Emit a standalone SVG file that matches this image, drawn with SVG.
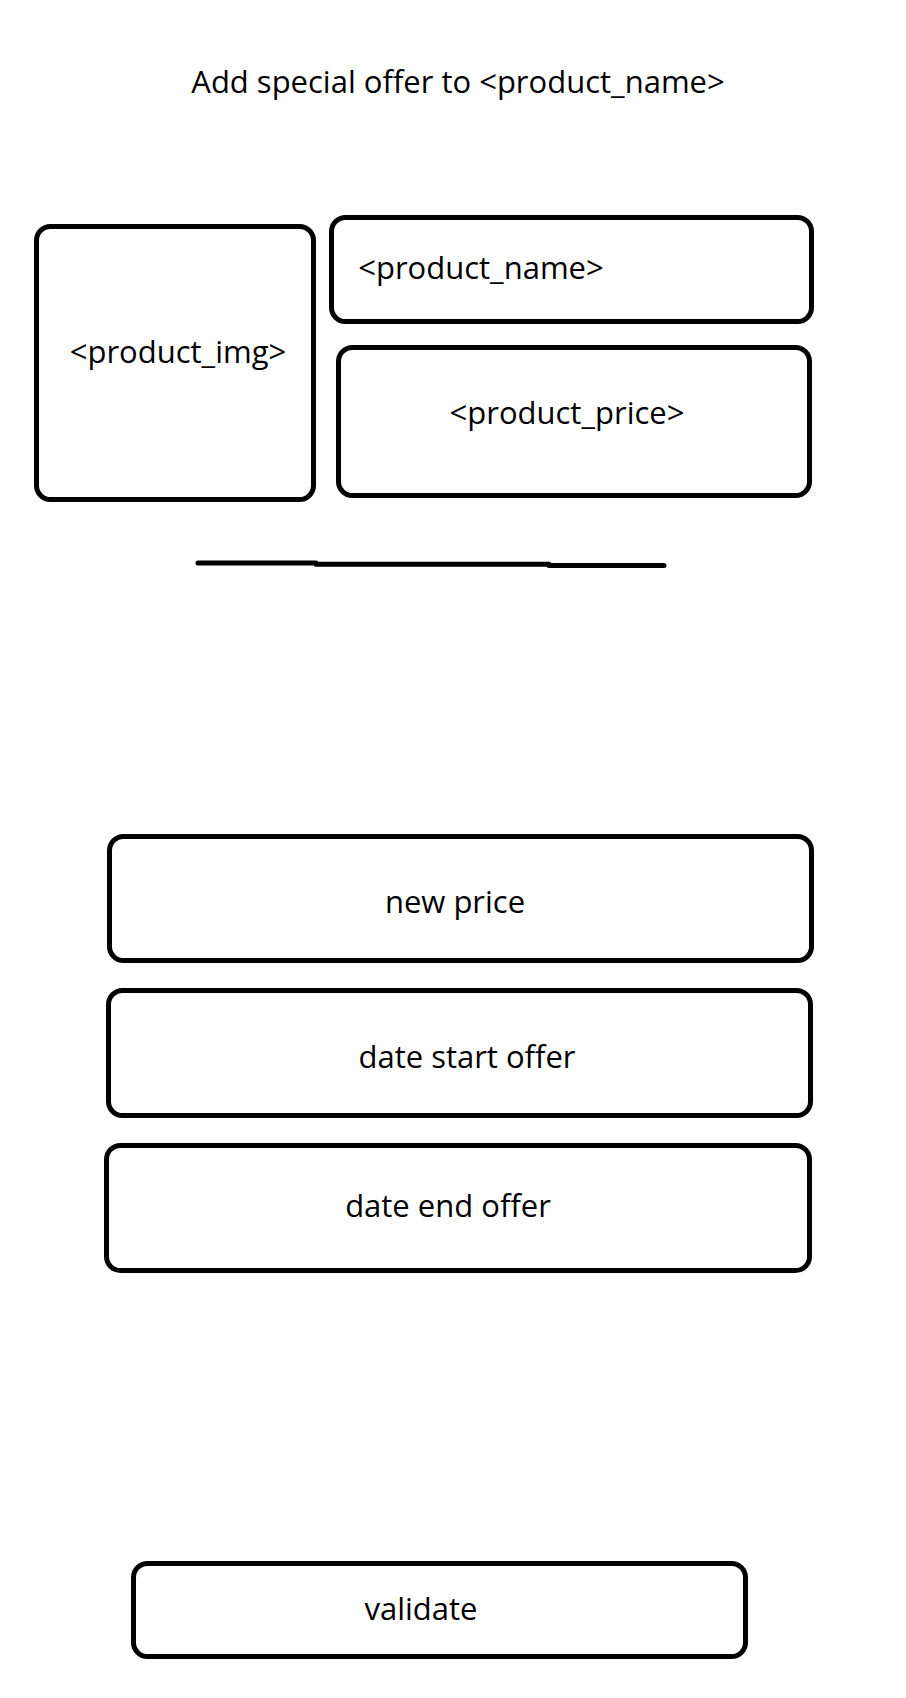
<svg xmlns="http://www.w3.org/2000/svg" width="906" height="1698" viewBox="0 0 906 1698">
<style>
.box{fill:#fff;stroke:#000;stroke-width:5}
.t{font-family:"Open Sans","Liberation Sans",sans-serif;font-size:31px;fill:#000;text-anchor:middle}
.ln{stroke:#000;stroke-width:5;stroke-linecap:round;fill:none}
</style>
<rect width="906" height="1698" fill="#fff"/>
<g id="title"><text class="t" x="458" y="93">Add special offer to &lt;product_name&gt;</text></g>
<g id="product_img"><rect class="box" x="36.5" y="226.5" width="277" height="273" rx="14"/><text class="t" x="178" y="363">&lt;product_img&gt;</text></g>
<g id="product_name"><rect class="box" x="331.5" y="217.5" width="480" height="104" rx="14"/><text class="t" x="481" y="279">&lt;product_name&gt;</text></g>
<g id="product_price"><rect class="box" x="338.5" y="347.5" width="471" height="148" rx="14"/><text class="t" x="567" y="424">&lt;product_price&gt;</text></g>
<g id="separator"><path class="ln" d="M198 563 H316 M316 564.3 H549 M549 565.5 H664"/></g>
<g id="new_price"><rect class="box" x="109.5" y="836.5" width="702" height="124" rx="14"/><text class="t" x="455" y="913">new price</text></g>
<g id="date_start"><rect class="box" x="108.5" y="990.5" width="702" height="125" rx="14"/><text class="t" x="467" y="1068">date start offer</text></g>
<g id="date_end"><rect class="box" x="106.5" y="1145.5" width="703" height="125" rx="14"/><text class="t" x="448" y="1217">date end offer</text></g>
<g id="validate"><rect class="box" x="133.5" y="1563.5" width="612" height="93" rx="14"/><text class="t" x="421" y="1620">validate</text></g>
<g id="connectors"/>
</svg>
